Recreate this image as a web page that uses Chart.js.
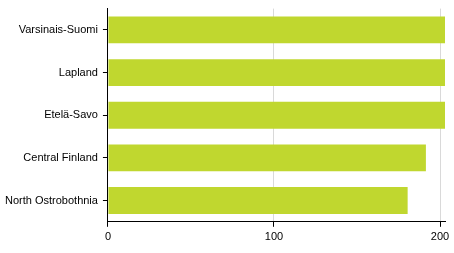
<!DOCTYPE html>
<html>
<head>
<meta charset="utf-8">
<script src="https://cdn.jsdelivr.net/npm/chart.js@4"></script>
<style>
html,body{margin:0;padding:0;background:#fff;overflow:hidden;}
#wrap{width:454px;height:253px;position:relative;overflow:hidden;}
#c{position:absolute;left:0;top:-3px;}
</style>
</head>
<body>
<div id="wrap"><canvas id="c" width="454" height="256"></canvas></div>
<script>
const categories = ["Varsinais-Suomi", "Lapland", "Etelä-Savo", "Central Finland", "North Ostrobothnia"];
const values = [203, 203, 203, 191.5, 180.5];
const xTicks = [0, 100, 200];

new Chart(document.getElementById('c'), {
  type: 'bar',
  data: {
    labels: categories,
    datasets: [{
      data: values,
      backgroundColor: '#c0d72f',
      borderWidth: 0,
      barPercentage: 0.63,
      categoryPercentage: 1.0
    }]
  },
  options: {
    indexAxis: 'y',
    responsive: false,
    animation: false,
    devicePixelRatio: 1,
    layout: { padding: { left: 0, right: 9, top: 4, bottom: 5 } },
    plugins: { legend: { display: false }, tooltip: { enabled: false } },
    scales: {
      x: {
        min: 0,
        max: 203,
        afterBuildTicks: (axis) => { axis.ticks = xTicks.map(v => ({ value: v })); },
        ticks: { color: '#000', font: { family: 'Liberation Sans, Arial, sans-serif', size: 11 }, padding: 4, maxRotation: 0 },
        grid: { color: '#d9d9d9', tickColor: '#000', tickLength: 5, lineWidth: 1 },
        border: { display: true, color: '#000', width: 1 }
      },
      y: {
        ticks: { color: '#000', font: { family: 'Liberation Sans, Arial, sans-serif', size: 11 }, padding: 5 },
        grid: { drawOnChartArea: false, drawTicks: true, tickLength: 5, tickColor: '#000', offset: false },
        border: { display: true, color: '#000', width: 1 }
      }
    }
  }
});
</script>
</body>
</html>
